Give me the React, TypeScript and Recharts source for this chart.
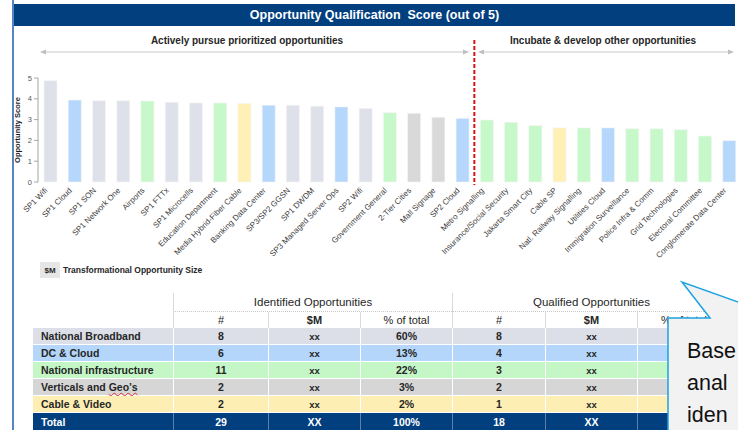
import React from 'react';
import { BarChart, Bar, XAxis, YAxis, Cell, ReferenceLine } from 'recharts';

const categories = [
  'SP1 Wifi', 'SP1 Cloud', 'SP1 SON', 'SP1 Network One', 'Airports', 'SP1 FTTx', 'SP1 Microcells',
  'Education Department', 'Media Hybrid-Fiber Cable', 'Banking Data Center', 'SP3/SP2 GGSN', 'SP1 DWDM',
  'SP3 Managed Server Ops', 'SP2 Wifi', 'Government General', '2-Tier Cities', 'Mall Signage', 'SP2 Cloud',
  'Metro Signalling', 'Insurance/Social Security', 'Jakarta Smart City', 'Cable SP', 'Natl. Railway Signalling',
  'Utilities Cloud', 'Immigration Surveillance', 'Police Infra & Comm', 'Grid Technologies', 'Electoral Committee',
  'Conglomerate Data Center',
];
const scores = [
  4.87, 3.94, 3.91, 3.91, 3.89, 3.83, 3.8, 3.8, 3.77, 3.69, 3.69, 3.64, 3.61, 3.53, 3.33, 3.3, 3.11, 3.06,
  2.98, 2.87, 2.71, 2.6, 2.6, 2.6, 2.56, 2.56, 2.51, 2.21, 1.99,
];
const groups = [
  'NB', 'DC', 'NB', 'NB', 'NI', 'NB', 'NB', 'NI', 'CV', 'DC', 'NB', 'NB', 'DC', 'NB', 'NI', 'VG', 'VG', 'DC',
  'NI', 'NI', 'NI', 'CV', 'NI', 'DC', 'NI', 'NI', 'NI', 'NI', 'DC',
];
const yTicks = [0, 1, 2, 3, 4, 5];
const dividerCategory = 'Metro Signalling';

const segmentKeys = ['NB', 'DC', 'NI', 'VG', 'CV'];
const segmentNames = ['National Broadband', 'DC & Cloud', 'National infrastructure', 'Verticals and Geo\u2019s', 'Cable & Video'];
const identifiedCount = ['8', '6', '11', '2', '2'];
const identifiedSize = ['xx', 'xx', 'xx', 'xx', 'xx'];
const identifiedPct = ['60%', '13%', '22%', '3%', '2%'];
const qualifiedCount = ['8', '4', '3', '2', '1'];
const qualifiedSize = ['xx', 'xx', 'xx', 'xx', 'xx'];
const qualifiedPct = ['', '', '', '', ''];
const totalRow = ['Total', '29', 'XX', '100%', '18', 'XX', ''];
const calloutLines = ['Base', 'anal', 'iden'];

const barColors: Record<string, string> = {
  NB: '#dfe1ea',
  DC: '#b4d7fb',
  NI: '#c6f8c9',
  VG: '#d9d9d9',
  CV: '#fff1b5',
};
const rowColors: Record<string, string> = {
  NB: '#dcdfe8',
  DC: '#b3d6fa',
  NI: '#c4f6c6',
  VG: '#d6d6d6',
  CV: '#fdefb3',
};

const data = categories.map((name, i) => ({ name, score: scores[i], group: groups[i] }));
const gridTicks = Array.from({ length: categories.length + 1 }, (_, i) => i);

const FONT = '"Liberation Sans", Arial, sans-serif';
const NAVY = '#023f7f';

const XTick = (props: any) => {
  const { x, y, payload } = props;
  const ax = x - 2;
  const ay = y + 3;
  return (
    <text
      x={ax}
      y={ay}
      transform={`rotate(-45 ${ax} ${ay})`}
      textAnchor="end"
      fontSize={8}
      fill="#404040"
      fontFamily={FONT}
    >
      {payload.value}
    </text>
  );
};

const YLabel = (p: any) => {
  const vb = p.viewBox;
  const cx = vb.x + 9;
  const cy = vb.y + vb.height / 2;
  return (
    <text
      x={cx}
      y={cy}
      transform={`rotate(-90 ${cx} ${cy})`}
      textAnchor="middle"
      dominantBaseline="central"
      fontSize={7.5}
      fontWeight="bold"
      fill="#1a1a1a"
      fontFamily={FONT}
    >
      Opportunity Score
    </text>
  );
};

const colX = [33, 173, 268, 360, 452, 545, 637, 730];
const rowY = [293, 312, 328, 345, 362, 379, 396, 413, 430];

function Cell2({ c0, c1, r, bg, children, align, color, bold, size, borderL, borderB }: any) {
  return (
    <div
      style={{
        position: 'absolute',
        left: colX[c0],
        top: rowY[r],
        width: colX[c1] - colX[c0],
        height: rowY[r + 1] - rowY[r],
        background: bg || 'transparent',
        boxSizing: 'border-box',
        borderLeft: borderL || 'none',
        borderBottom: borderB || 'none',
        display: 'flex',
        alignItems: 'center',
        justifyContent: align === 'left' ? 'flex-start' : 'center',
        paddingLeft: align === 'left' ? 8 : 0,
        fontFamily: FONT,
        fontSize: size || 10,
        fontWeight: bold ? 'bold' : 'normal',
        color: color || '#262626',
        whiteSpace: 'nowrap',
      }}
    >
      {children}
    </div>
  );
}

function Table() {
  const cells: any[] = [];
  const hdrBorder = '1px solid #d9d9d9';
  cells.push(
    <Cell2 key="g1" c0={1} c1={4} r={0} borderL={hdrBorder} borderB="1px dotted #c8c8c8" size={11.5}>
      Identified Opportunities
    </Cell2>
  );
  cells.push(
    <Cell2 key="g2" c0={4} c1={7} r={0} borderL={hdrBorder} borderB="1px dotted #c8c8c8" size={11.5}>
      Qualified Opportunities
    </Cell2>
  );
  const subs = ['#', '$M', '% of total', '#', '$M', '% of total'];
  subs.forEach((s, i) => {
    cells.push(
      <Cell2 key={'s' + i} c0={i + 1} c1={i + 2} r={1} borderL={hdrBorder} size={11} bold={s === '$M'}>
        {s}
      </Cell2>
    );
  });
  segmentKeys.forEach((k, ri) => {
    const bg = rowColors[k];
    const vals = [identifiedCount[ri], identifiedSize[ri], identifiedPct[ri], qualifiedCount[ri], qualifiedSize[ri], qualifiedPct[ri]];
    const wb = '1px solid #ffffff';
    const name = segmentNames[ri];
    const sp = name.lastIndexOf(' ');
    cells.push(
      <Cell2 key={'l' + ri} c0={0} c1={1} r={ri + 2} bg={bg} align="left" bold borderB={wb} size={10.5}>
        {k === 'VG' ? (
          <span>
            {name.slice(0, sp + 1)}
            <span style={{ textDecoration: 'underline wavy #e03030', textDecorationThickness: 1 }}>{name.slice(sp + 1)}</span>
          </span>
        ) : (
          name
        )}
      </Cell2>
    );
    vals.forEach((v, ci) => {
      cells.push(
        <Cell2 key={'v' + ri + '_' + ci} c0={ci + 1} c1={ci + 2} r={ri + 2} bg={bg} bold borderL={wb} borderB={wb} size={v === 'xx' ? 9.5 : 10.5}>
          {v}
        </Cell2>
      );
    });
  });
  totalRow.forEach((v, ci) => {
    cells.push(
      <Cell2
        key={'t' + ci}
        c0={ci}
        c1={ci + 1}
        r={7}
        bg={NAVY}
        bold
        color="#ffffff"
        size={10.5}
        align={ci === 0 ? 'left' : 'center'}
        borderL={ci === 0 ? 'none' : '1px solid #5a7fb0'}
      >
        {v}
      </Cell2>
    );
  });
  return <>{cells}</>;
}

export default function App() {
  return (
    <div
      style={{
        position: 'absolute',
        left: 0,
        top: 0,
        width: 738,
        height: 430,
        overflow: 'hidden',
        background: '#ffffff',
        fontFamily: FONT,
      }}
    >
      <div style={{ position: 'absolute', left: 12, top: 0, width: 2, height: 430, background: '#5585c5' }} />
      <div
        style={{
          position: 'absolute',
          left: 14,
          top: 4,
          width: 721,
          height: 22,
          background: NAVY,
          color: '#ffffff',
          fontWeight: 'bold',
          fontSize: 12.5,
          display: 'flex',
          alignItems: 'center',
          justifyContent: 'center',
          whiteSpace: 'pre',
        }}
      >
        {'Opportunity Qualification  Score (out of 5)'}
      </div>

      <div style={{ position: 'absolute', left: 0, top: 0 }}>
        <BarChart width={745} height={430} data={data} margin={{ top: 78, right: 4, bottom: 188, left: 8 }}>
          <XAxis
            xAxisId="grid"
            type="number"
            domain={[0, categories.length]}
            ticks={gridTicks}
            tick={false}
            tickSize={4}
            height={0}
            stroke="#a6a6a6"
            allowDataOverflow
          />
          <XAxis
            dataKey="name"
            interval={0}
            tickLine={false}
            axisLine={false}
            tickSize={4}
            height={60}
            tick={<XTick />}
          />
          <YAxis
            domain={[0, 5]}
            ticks={yTicks}
            width={30}
            tickSize={4}
            stroke="#a6a6a6"
            tick={{ fontSize: 7.5, fill: '#595959', fontFamily: FONT }}
            label={{ content: <YLabel /> }}
          />
          <Bar dataKey="score" barSize={13} isAnimationActive={false} stroke="#f5f5f5" strokeWidth={0.6}>
            {data.map((d, i) => (
              <Cell key={i} fill={barColors[d.group]} />
            ))}
          </Bar>
          <ReferenceLine
            segment={[
              { x: dividerCategory, y: 6.83 },
              { x: dividerCategory, y: -0.15 },
            ]}
            position="start"
            ifOverflow="visible"
            stroke="#dd1111"
            strokeWidth={2}
            strokeDasharray="4 2"
          />
        </BarChart>
      </div>

      <svg width={738} height={430} style={{ position: 'absolute', left: 0, top: 0, pointerEvents: 'none' }}>
        <text x={247} y={43.5} textAnchor="middle" fontSize={10} fontWeight="bold" fill="#262626" fontFamily={FONT}>
          Actively pursue prioritized opportunities
        </text>
        <text x={603} y={43.5} textAnchor="middle" fontSize={10} fontWeight="bold" fill="#262626" fontFamily={FONT}>
          Incubate &amp; develop other opportunities
        </text>
        <line x1={44} y1={52} x2={465} y2={52} stroke="#c8c8c8" strokeWidth={1} />
        <path d="M40,52 L46,49.5 L46,54.5 Z" fill="#c0c0c0" />
        <path d="M469,52 L463,49.5 L463,54.5 Z" fill="#c0c0c0" />
        <line x1={482} y1={52} x2={730} y2={52} stroke="#c8c8c8" strokeWidth={1} />
        <path d="M478,52 L484,49.5 L484,54.5 Z" fill="#c0c0c0" />
        <path d="M734,52 L728,49.5 L728,54.5 Z" fill="#c0c0c0" />
      </svg>

      <div
        style={{
          position: 'absolute',
          left: 40,
          top: 262,
          width: 20,
          height: 16,
          background: '#e6e6e6',
          fontSize: 8,
          fontWeight: 'bold',
          color: '#262626',
          display: 'flex',
          alignItems: 'center',
          justifyContent: 'center',
        }}
      >
        $M
      </div>
      <div
        style={{
          position: 'absolute',
          left: 63,
          top: 262,
          height: 16,
          fontSize: 8.5,
          fontWeight: 'bold',
          color: '#262626',
          display: 'flex',
          alignItems: 'center',
          whiteSpace: 'nowrap',
        }}
      >
        Transformational Opportunity Size
      </div>

      <Table />

      <svg width={738} height={430} style={{ position: 'absolute', left: 0, top: 0, pointerEvents: 'none' }}>
        <path
          d="M668,318 L710,318 L682,282 L783,318 L800,318 L800,460 L668,460 Z"
          fill="#f2f2f2"
          stroke="#1ba3e0"
          strokeWidth={1.5}
        />
        {calloutLines.map((t, i) => (
          <text key={t} x={687} y={358 + i * 32} fontSize={21.5} fill="#111111" fontFamily={FONT}>
            {t}
          </text>
        ))}
      </svg>
    </div>
  );
}
